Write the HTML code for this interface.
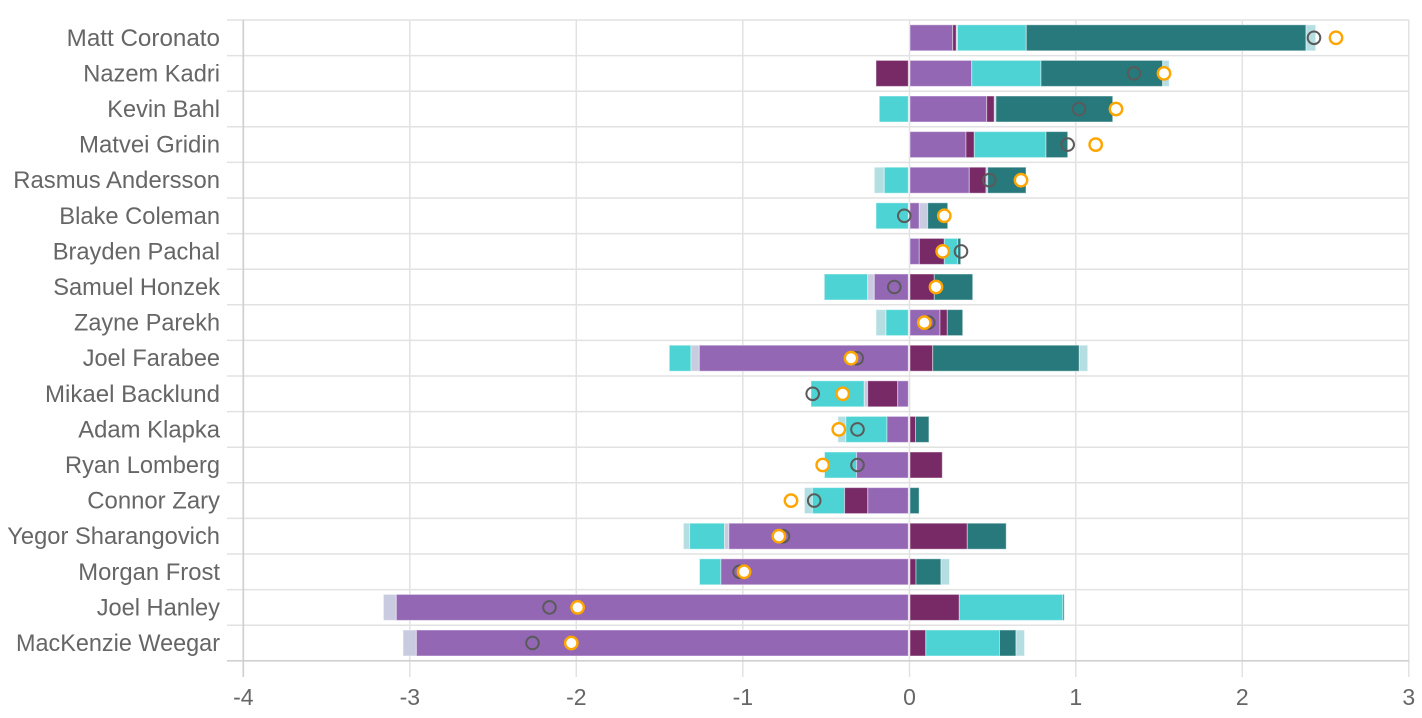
<!DOCTYPE html>
<html>
<head>
<meta charset="utf-8">
<style>
html,body{margin:0;padding:0;background:#fff;}
svg{display:block;}
text{font-family:"Liberation Sans",Arial,sans-serif;fill:#666;}
</style>
</head>
<body>
<svg width="1422" height="718" viewBox="0 0 1422 718" xmlns="http://www.w3.org/2000/svg">
<g id="grid" stroke="#e2e2e2" stroke-width="1.5">
  <line x1="227" y1="20" x2="1409" y2="20"/>
  <line x1="227" y1="55.6" x2="1409" y2="55.6"/>
  <line x1="227" y1="91.2" x2="1409" y2="91.2"/>
  <line x1="227" y1="126.8" x2="1409" y2="126.8"/>
  <line x1="227" y1="162.4" x2="1409" y2="162.4"/>
  <line x1="227" y1="198" x2="1409" y2="198"/>
  <line x1="227" y1="233.6" x2="1409" y2="233.6"/>
  <line x1="227" y1="269.2" x2="1409" y2="269.2"/>
  <line x1="227" y1="304.8" x2="1409" y2="304.8"/>
  <line x1="227" y1="340.4" x2="1409" y2="340.4"/>
  <line x1="227" y1="376" x2="1409" y2="376"/>
  <line x1="227" y1="411.6" x2="1409" y2="411.6"/>
  <line x1="227" y1="447.2" x2="1409" y2="447.2"/>
  <line x1="227" y1="482.8" x2="1409" y2="482.8"/>
  <line x1="227" y1="518.4" x2="1409" y2="518.4"/>
  <line x1="227" y1="554" x2="1409" y2="554"/>
  <line x1="227" y1="589.6" x2="1409" y2="589.6"/>
  <line x1="227" y1="625.2" x2="1409" y2="625.2"/>
  <line x1="409.8" y1="20" x2="409.8" y2="677"/>
  <line x1="576.3" y1="20" x2="576.3" y2="677"/>
  <line x1="742.8" y1="20" x2="742.8" y2="677"/>
  <line x1="909.5" y1="20" x2="909.5" y2="677"/>
  <line x1="1075.8" y1="20" x2="1075.8" y2="677"/>
  <line x1="1242.3" y1="20" x2="1242.3" y2="677"/>
  <line x1="1408.8" y1="20" x2="1408.8" y2="677"/>
</g>
<g stroke="#d0d0d0" stroke-width="1.7">
  <line x1="243.3" y1="20" x2="243.3" y2="677"/>
  <line x1="227" y1="660.8" x2="1409" y2="660.8"/>
</g>

<g id="bars" stroke="rgba(255,255,255,0.45)" stroke-width="1">
<!-- R0 Matt Coronato cy 37.8 -->
<g transform="translate(0,24.8)">
<rect x="910" width="42.7" height="26" fill="#9467B5"/>
<rect x="952.7" width="3.6" height="26" fill="#772A66"/>
<rect x="956.3" width="1.2" height="26" fill="#C9CCE0"/>
<rect x="957.5" width="68.8" height="26" fill="#4DD3D3"/>
<rect x="1026.3" width="279.7" height="26" fill="#27797C"/>
<rect x="1306" width="9.7" height="26" fill="#B5DEE3"/>
</g>
<!-- R1 Nazem Kadri cy 73.4 -->
<g transform="translate(0,60.4)">
<rect x="876" width="32.3" height="26" fill="#772A66"/>
<rect x="910" width="61.7" height="26" fill="#9467B5"/>
<rect x="971.7" width="69.3" height="26" fill="#4DD3D3"/>
<rect x="1041" width="121.7" height="26" fill="#27797C"/>
<rect x="1162.7" width="6.6" height="26" fill="#B5DEE3"/>
</g>
<!-- R2 Kevin Bahl cy 109 -->
<g transform="translate(0,96)">
<rect x="879.3" width="29" height="26" fill="#4DD3D3"/>
<rect x="910" width="76.7" height="26" fill="#9467B5"/>
<rect x="986.7" width="7.6" height="26" fill="#772A66"/>
<rect x="994.3" width="1.7" height="26" fill="#C9CCE0"/>
<rect x="996" width="116.7" height="26" fill="#27797C"/>
</g>
<!-- R3 Matvei Gridin cy 144.6 -->
<g transform="translate(0,131.6)">
<rect x="910" width="56" height="26" fill="#9467B5"/>
<rect x="966" width="8.3" height="26" fill="#772A66"/>
<rect x="974.3" width="71.7" height="26" fill="#4DD3D3"/>
<rect x="1046" width="21.7" height="26" fill="#27797C"/>
</g>
<!-- R4 Rasmus Andersson cy 180.2 -->
<g transform="translate(0,167.2)">
<rect x="874.3" width="10" height="26" fill="#B5DEE3"/>
<rect x="884.3" width="24" height="26" fill="#4DD3D3"/>
<rect x="910" width="59.3" height="26" fill="#9467B5"/>
<rect x="969.3" width="16.7" height="26" fill="#772A66"/>
<rect x="986" width="1.7" height="26" fill="#C9CCE0"/>
<rect x="987.7" width="38.3" height="26" fill="#27797C"/>
</g>
<!-- R5 Blake Coleman cy 215.8 -->
<g transform="translate(0,202.8)">
<rect x="876" width="32.3" height="26" fill="#4DD3D3"/>
<rect x="910" width="9.3" height="26" fill="#9467B5"/>
<rect x="919.3" width="8.4" height="26" fill="#C9CCE0"/>
<rect x="927.7" width="20" height="26" fill="#27797C"/>
</g>
<!-- R6 Brayden Pachal cy 251.4 -->
<g transform="translate(0,238.4)">
<rect x="910" width="9.3" height="26" fill="#9467B5"/>
<rect x="919.3" width="25" height="26" fill="#772A66"/>
<rect x="944.3" width="13.4" height="26" fill="#4DD3D3"/>
<rect x="957.7" width="3" height="26" fill="#27797C"/>
</g>
<!-- R7 Samuel Honzek cy 287 -->
<g transform="translate(0,274)">
<rect x="824.3" width="43.4" height="26" fill="#4DD3D3"/>
<rect x="867.7" width="6.6" height="26" fill="#C9CCE0"/>
<rect x="874.3" width="34" height="26" fill="#9467B5"/>
<rect x="910" width="24.3" height="26" fill="#772A66"/>
<rect x="934.3" width="38.4" height="26" fill="#27797C"/>
</g>
<!-- R8 Zayne Parekh cy 322.6 -->
<g transform="translate(0,309.6)">
<rect x="876" width="10" height="26" fill="#B5DEE3"/>
<rect x="886" width="22.3" height="26" fill="#4DD3D3"/>
<rect x="910" width="30" height="26" fill="#9467B5"/>
<rect x="940" width="7.3" height="26" fill="#772A66"/>
<rect x="947.3" width="15.4" height="26" fill="#27797C"/>
</g>
<!-- R9 Joel Farabee cy 358.2 -->
<g transform="translate(0,345.2)">
<rect x="669.3" width="21.7" height="26" fill="#4DD3D3"/>
<rect x="691" width="8.3" height="26" fill="#C9CCE0"/>
<rect x="699.3" width="209" height="26" fill="#9467B5"/>
<rect x="910" width="22.7" height="26" fill="#772A66"/>
<rect x="932.7" width="146.6" height="26" fill="#27797C"/>
<rect x="1079.3" width="8.4" height="26" fill="#B5DEE3"/>
</g>
<!-- R10 Mikael Backlund cy 393.8 -->
<g transform="translate(0,380.8)">
<rect x="811" width="53.3" height="26" fill="#4DD3D3"/>
<rect x="864.3" width="3.4" height="26" fill="#C9CCE0"/>
<rect x="867.7" width="30" height="26" fill="#772A66"/>
<rect x="897.7" width="10.6" height="26" fill="#9467B5"/>
</g>
<!-- R11 Adam Klapka cy 429.4 -->
<g transform="translate(0,416.4)">
<rect x="837.9" width="8" height="26" fill="#B5DEE3"/>
<rect x="845.9" width="41.1" height="26" fill="#4DD3D3"/>
<rect x="887" width="21.3" height="26" fill="#9467B5"/>
<rect x="910" width="5.5" height="26" fill="#772A66"/>
<rect x="915.5" width="13.4" height="26" fill="#27797C"/>
</g>
<!-- R12 Ryan Lomberg cy 465 -->
<g transform="translate(0,452)">
<rect x="824.5" width="32.1" height="26" fill="#4DD3D3"/>
<rect x="856.6" width="51.7" height="26" fill="#9467B5"/>
<rect x="910" width="32.3" height="26" fill="#772A66"/>
</g>
<!-- R13 Connor Zary cy 500.6 -->
<g transform="translate(0,487.6)">
<rect x="804.4" width="8" height="26" fill="#B5DEE3"/>
<rect x="812.4" width="32.2" height="26" fill="#4DD3D3"/>
<rect x="844.6" width="23.2" height="26" fill="#772A66"/>
<rect x="867.8" width="40.5" height="26" fill="#9467B5"/>
<rect x="910" width="9.1" height="26" fill="#27797C"/>
</g>
<!-- R14 Yegor Sharangovich cy 536.2 -->
<g transform="translate(0,523.2)">
<rect x="683.4" width="6.2" height="26" fill="#B5DEE3"/>
<rect x="689.6" width="34.9" height="26" fill="#4DD3D3"/>
<rect x="724.5" width="4.4" height="26" fill="#C9CCE0"/>
<rect x="728.9" width="179.4" height="26" fill="#9467B5"/>
<rect x="910" width="57.3" height="26" fill="#772A66"/>
<rect x="967.3" width="38.9" height="26" fill="#27797C"/>
</g>
<!-- R15 Morgan Frost cy 571.8 -->
<g transform="translate(0,558.8)">
<rect x="699.5" width="21.4" height="26" fill="#4DD3D3"/>
<rect x="720.9" width="187.4" height="26" fill="#9467B5"/>
<rect x="910" width="6" height="26" fill="#772A66"/>
<rect x="916" width="25" height="26" fill="#27797C"/>
<rect x="941" width="8.5" height="26" fill="#B5DEE3"/>
</g>
<!-- R16 Joel Hanley cy 607.4 -->
<g transform="translate(0,594.4)">
<rect x="383.4" width="12.9" height="26" fill="#C9CCE0"/>
<rect x="396.3" width="512" height="26" fill="#9467B5"/>
<rect x="910" width="49.3" height="26" fill="#772A66"/>
<rect x="959.3" width="103.6" height="26" fill="#4DD3D3"/>
<rect x="1062.9" width="1.3" height="26" fill="#27797C"/>
</g>
<!-- R17 MacKenzie Weegar cy 643 -->
<g transform="translate(0,630)">
<rect x="403" width="13.4" height="26" fill="#C9CCE0"/>
<rect x="416.4" width="491.9" height="26" fill="#9467B5"/>
<rect x="910" width="15.8" height="26" fill="#772A66"/>
<rect x="925.8" width="73.7" height="26" fill="#4DD3D3"/>
<rect x="999.5" width="16.5" height="26" fill="#27797C"/>
<rect x="1016" width="8.5" height="26" fill="#B5DEE3"/>
</g>
</g>

<g id="gray" fill="none" stroke="#5a5a5a" stroke-width="2">
<circle cx="1314" cy="37.8" r="6.3"/>
<circle cx="1134" cy="73.4" r="6.3"/>
<circle cx="1079" cy="109" r="6.3"/>
<circle cx="1067.7" cy="144.6" r="6.3"/>
<circle cx="989.3" cy="180.2" r="6.3"/>
<circle cx="904.3" cy="215.8" r="6.3"/>
<circle cx="961" cy="251.4" r="6.3"/>
<circle cx="894.3" cy="287" r="6.3"/>
<circle cx="928.3" cy="322.6" r="6.3"/>
<circle cx="856.7" cy="358.2" r="6.3"/>
<circle cx="812.7" cy="393.8" r="6.3"/>
<circle cx="857.5" cy="429.4" r="6.3"/>
<circle cx="857.5" cy="465" r="6.3"/>
<circle cx="814.2" cy="500.6" r="6.3"/>
<circle cx="783" cy="536.2" r="6.3"/>
<circle cx="739.6" cy="571.8" r="6.3"/>
<circle cx="549.5" cy="607.4" r="6.3"/>
<circle cx="532.5" cy="643" r="6.3"/>
</g>
<g id="orange" fill="#fff" stroke="#FFA500" stroke-width="2.4">
<circle cx="1336" cy="37.8" r="6.2"/>
<circle cx="1164" cy="73.4" r="6.2"/>
<circle cx="1116" cy="109" r="6.2"/>
<circle cx="1095.7" cy="144.6" r="6.2"/>
<circle cx="1021" cy="180.2" r="6.2"/>
<circle cx="944.3" cy="215.8" r="6.2"/>
<circle cx="942.7" cy="251.4" r="6.2"/>
<circle cx="936" cy="287" r="6.2"/>
<circle cx="924.3" cy="322.6" r="6.2"/>
<circle cx="851" cy="358.2" r="6.2"/>
<circle cx="842.7" cy="393.8" r="6.2"/>
<circle cx="838.8" cy="429.4" r="6.2"/>
<circle cx="822.7" cy="465" r="6.2"/>
<circle cx="791" cy="500.6" r="6.2"/>
<circle cx="778.9" cy="536.2" r="6.2"/>
<circle cx="744.1" cy="571.8" r="6.2"/>
<circle cx="577.6" cy="607.4" r="6.2"/>
<circle cx="571.3" cy="643" r="6.2"/>
</g>

<g id="ylabels" font-size="24" text-anchor="end">
<text x="220" y="45.8" textLength="153.3" lengthAdjust="spacingAndGlyphs">Matt Coronato</text>
<text x="220" y="81.4" textLength="136.7" lengthAdjust="spacingAndGlyphs">Nazem Kadri</text>
<text x="220" y="117" textLength="112.7" lengthAdjust="spacingAndGlyphs">Kevin Bahl</text>
<text x="220" y="152.6" textLength="141" lengthAdjust="spacingAndGlyphs">Matvei Gridin</text>
<text x="220" y="188.2" textLength="206.7" lengthAdjust="spacingAndGlyphs">Rasmus Andersson</text>
<text x="220" y="223.8" textLength="160.7" lengthAdjust="spacingAndGlyphs">Blake Coleman</text>
<text x="220" y="259.4" textLength="167.3" lengthAdjust="spacingAndGlyphs">Brayden Pachal</text>
<text x="220" y="295" textLength="166.7" lengthAdjust="spacingAndGlyphs">Samuel Honzek</text>
<text x="220" y="330.6" textLength="146" lengthAdjust="spacingAndGlyphs">Zayne Parekh</text>
<text x="220" y="366.2" textLength="137.3" lengthAdjust="spacingAndGlyphs">Joel Farabee</text>
<text x="220" y="401.8" textLength="175" lengthAdjust="spacingAndGlyphs">Mikael Backlund</text>
<text x="220" y="437.4" textLength="141.7" lengthAdjust="spacingAndGlyphs">Adam Klapka</text>
<text x="220" y="473" textLength="155" lengthAdjust="spacingAndGlyphs">Ryan Lomberg</text>
<text x="220" y="508.6" textLength="132.7" lengthAdjust="spacingAndGlyphs">Connor Zary</text>
<text x="220" y="544.2" textLength="212.7" lengthAdjust="spacingAndGlyphs">Yegor Sharangovich</text>
<text x="220" y="579.8" textLength="141.7" lengthAdjust="spacingAndGlyphs">Morgan Frost</text>
<text x="220" y="615.4" textLength="123.3" lengthAdjust="spacingAndGlyphs">Joel Hanley</text>
<text x="220" y="651" textLength="204" lengthAdjust="spacingAndGlyphs">MacKenzie Weegar</text>
</g>

<g id="xlabels" font-size="23" text-anchor="middle">
<text x="243.3" y="705">-4</text>
<text x="409.8" y="705">-3</text>
<text x="576.3" y="705">-2</text>
<text x="742.8" y="705">-1</text>
<text x="909.5" y="705">0</text>
<text x="1075.8" y="705">1</text>
<text x="1242.3" y="705">2</text>
<text x="1408.8" y="705">3</text>
</g>
</svg>
</body>
</html>
